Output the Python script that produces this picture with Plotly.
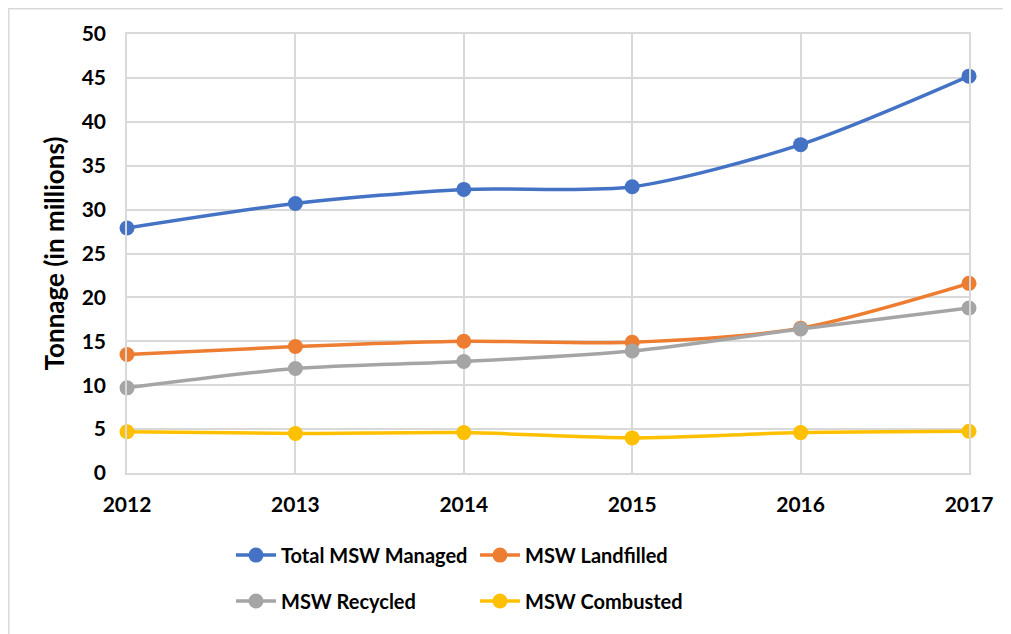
import plotly.graph_objects as go

years = [2012, 2013, 2014, 2015, 2016, 2017]
total_managed = [27.9, 30.7, 32.3, 32.6, 37.4, 45.2]
landfilled = [13.5, 14.4, 15.0, 14.9, 16.5, 21.6]
recycled = [9.7, 11.9, 12.7, 13.9, 16.4, 18.8]
combusted = [4.7, 4.5, 4.6, 4.0, 4.6, 4.75]

series_names = ["Total MSW Managed", "MSW Landfilled", "MSW Recycled", "MSW Combusted"]
series_values = [total_managed, landfilled, recycled, combusted]
colors = ["#4472C4", "#ED7D31", "#A5A5A5", "#FFC000"]
legend_ids = ["legend", "legend", "legend2", "legend2"]

y_ticks = list(range(0, 51, 5))

FONT = "Lato"

fig = go.Figure()
for name, vals, col, lg in zip(series_names, series_values, colors, legend_ids):
    fig.add_trace(go.Scatter(
        x=years, y=vals, name=name, mode="lines+markers",
        line=dict(color=col, width=3.5, shape="spline", smoothing=0.8),
        marker=dict(color=col, size=15),
        cliponaxis=False, legend=lg,
    ))

axis_common = dict(
    showgrid=True, gridcolor="#d9d9d9", gridwidth=1.5,
    showline=True, linecolor="#d9d9d9", linewidth=1.5, mirror=True,
    zeroline=False,
    tickfont=dict(family=FONT, size=21, color="#000000", weight="bold"),
)

fig.update_layout(
    width=1011, height=634,
    margin=dict(l=119, r=50, t=26, b=169),
    paper_bgcolor="white", plot_bgcolor="white",
    font=dict(family=FONT, color="#000000"),
    xaxis=dict(range=[2012, 2017], tickmode="array", tickvals=years,
               ticktext=[str(y) for y in years], ticklabelstandoff=12,
               **axis_common),
    yaxis=dict(range=[0, 50], tickmode="array", tickvals=y_ticks,
               ticklabelstandoff=15,
               title=dict(text="Tonnage (in millions)",
                          font=dict(family=FONT, size=26, weight="bold"), standoff=10),
               **axis_common),
    legend=dict(orientation="h", x=0.1235, xanchor="left", y=-0.187, yanchor="middle",
                entrywidth=189, font=dict(family=FONT, size=20, weight="bold"),
                itemwidth=40, bgcolor="rgba(0,0,0,0)"),
    legend2=dict(orientation="h", x=0.1235, xanchor="left", y=-0.2916, yanchor="middle",
                 entrywidth=189, font=dict(family=FONT, size=20, weight="bold"),
                 itemwidth=40, bgcolor="rgba(0,0,0,0)"),
    showlegend=True,
    shapes=[dict(type="rect", xref="paper", yref="paper",
                 x0=-0.1404, x1=1.3, y0=-0.6, y1=1.0575,
                 line=dict(color="#d9d9d9", width=1.5), layer="below")],
)

fig.write_html("out.html")
